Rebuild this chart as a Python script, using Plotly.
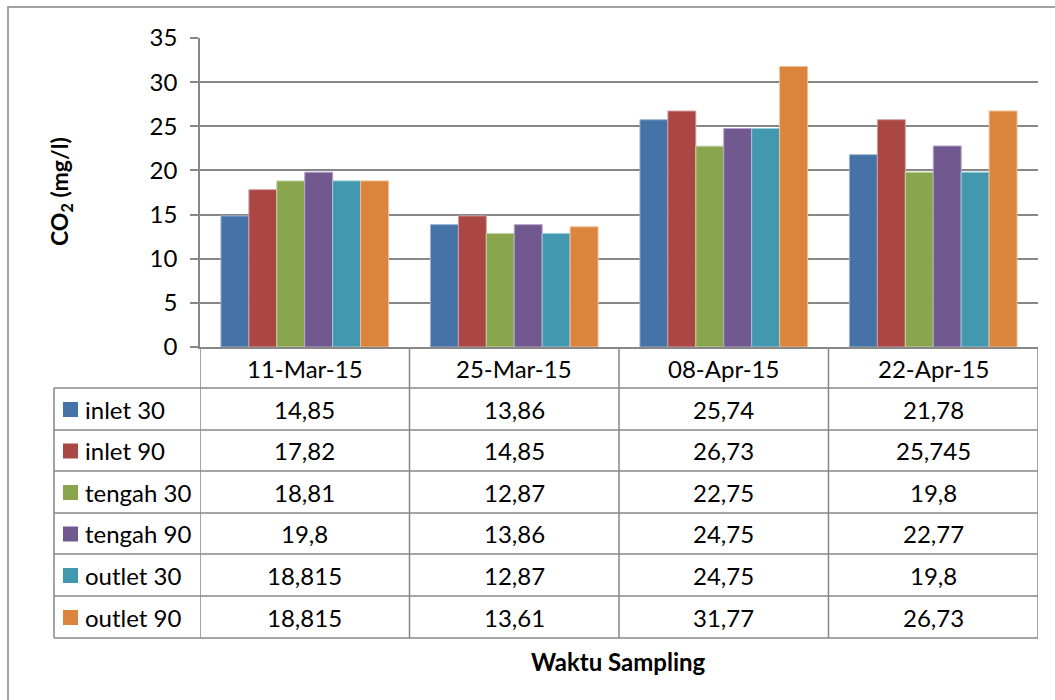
import plotly.graph_objects as go

# Sampling dates and CO2 concentrations (mg/l) per sampling point
dates = ["11-Mar-15", "25-Mar-15", "08-Apr-15", "22-Apr-15"]
series_names = ["inlet 30", "inlet 90", "tengah 30", "tengah 90", "outlet 30", "outlet 90"]
inlet_30 = [14.85, 13.86, 25.74, 21.78]
inlet_90 = [17.82, 14.85, 26.73, 25.745]
tengah_30 = [18.81, 12.87, 22.75, 19.8]
tengah_90 = [19.8, 13.86, 24.75, 22.77]
outlet_30 = [18.815, 12.87, 24.75, 19.8]
outlet_90 = [18.815, 13.61, 31.77, 26.73]
all_series = [inlet_30, inlet_90, tengah_30, tengah_90, outlet_30, outlet_90]
colors = ["#4572A7", "#AA4643", "#89A54E", "#71588F", "#4198AF", "#DB843D"]
edge_colors = ["#9AB3D3", "#D49F9D", "#C0D4A3", "#B3A5C8", "#9FCDD9", "#F0BF9A"]

FONT = "Lato"
FS = 24
GRID = "#878787"
W, H = 1055, 700
M_L, M_R, M_T, M_B = 200, 17, 38, 353
PW = W - M_L - M_R
PH = H - M_T - M_B


def py(y_px):
    """Pixel row -> paper y coordinate."""
    return (H - M_B - y_px) / PH


def px(x_px):
    """Pixel column -> paper x coordinate."""
    return (x_px - M_L) / PW


def fmt(v):
    return str(v).replace(".", ",")


fig = go.Figure()
for name, vals, c, ec in zip(series_names, all_series, colors, edge_colors):
    fig.add_trace(go.Bar(
        name=name, x=list(range(len(dates))), y=vals,
        marker=dict(color=c, line=dict(color=ec, width=1)),
        showlegend=False,
    ))

shapes = []
annotations = []

# outer chart frame
shapes.append(dict(type="rect", xref="paper", yref="paper",
                   x0=px(8), x1=px(1070), y0=py(7), y1=py(720),
                   line=dict(color=GRID, width=1.5), layer="below"))

# data table grid
row_edges = [388, 430, 471, 513, 554, 596, 638]
for y in row_edges:
    shapes.append(dict(type="line", xref="paper", yref="paper",
                       x0=px(54), x1=1, y0=py(y), y1=py(y),
                       line=dict(color=GRID, width=1.5)))
for i in range(len(dates) + 1):
    shapes.append(dict(type="line", xref="x", yref="paper",
                       x0=i - 0.5, x1=i - 0.5, y0=py(347), y1=py(638),
                       line=dict(color=GRID, width=1.5)))
shapes.append(dict(type="line", xref="paper", yref="paper",
                   x0=px(54), x1=px(54), y0=py(388), y1=py(638),
                   line=dict(color=GRID, width=1.5)))

txt = dict(family=FONT, size=FS, color="#000")

# header row with dates
for i, d in enumerate(dates):
    annotations.append(dict(x=i, y=py(368), xref="x", yref="paper", text=d,
                            xanchor="center", yanchor="middle",
                            showarrow=False, font=txt))

# series rows: legend key, name, values
for r, (name, vals, c) in enumerate(zip(series_names, all_series, colors)):
    yc = (row_edges[r] + row_edges[r + 1]) / 2
    shapes.append(dict(type="rect", xref="paper", yref="paper",
                       x0=px(63), x1=px(78), y0=py(yc - 7), y1=py(yc + 8),
                       fillcolor=c, line=dict(width=0)))
    annotations.append(dict(x=px(83), y=py(yc), xref="paper", yref="paper", text=name,
                            xanchor="left", yanchor="middle", showarrow=False, font=txt))
    for i, v in enumerate(vals):
        annotations.append(dict(x=i, y=py(yc), xref="x", yref="paper", text=fmt(v),
                                xanchor="center", yanchor="middle",
                                showarrow=False, font=txt))

# axis titles
annotations.append(dict(x=px(60), y=py(192), xref="paper", yref="paper",
                        text="<b>CO<sub>2</sub> (mg/l)</b>", textangle=-90, showarrow=False,
                        xanchor="center", yanchor="middle",
                        font=dict(family=FONT, size=23, color="#000")))
annotations.append(dict(x=px(618), y=py(661), xref="paper", yref="paper",
                        text="<b>Waktu Sampling</b>", showarrow=False,
                        xanchor="center", yanchor="middle",
                        font=dict(family=FONT, size=24, color="#000")))

fig.update_layout(
    width=W, height=H,
    margin=dict(l=M_L, r=M_R, t=M_T, b=M_B),
    paper_bgcolor="white", plot_bgcolor="white",
    barmode="group", bargap=0.2, bargroupgap=0,
    shapes=shapes, annotations=annotations,
    xaxis=dict(range=[-0.5, len(dates) - 0.5], showticklabels=False, showgrid=False,
               showline=True, linecolor=GRID, linewidth=1.5, zeroline=False),
    yaxis=dict(range=[0, 35], dtick=5, showgrid=True, gridcolor=GRID, gridwidth=1.5,
               showline=True, linecolor=GRID, linewidth=1.5, zeroline=False,
               ticks="outside", ticklen=8, tickcolor=GRID, tickwidth=1.5,
               ticklabelstandoff=8,
               tickfont=txt),
)

fig.write_html("out.html")
